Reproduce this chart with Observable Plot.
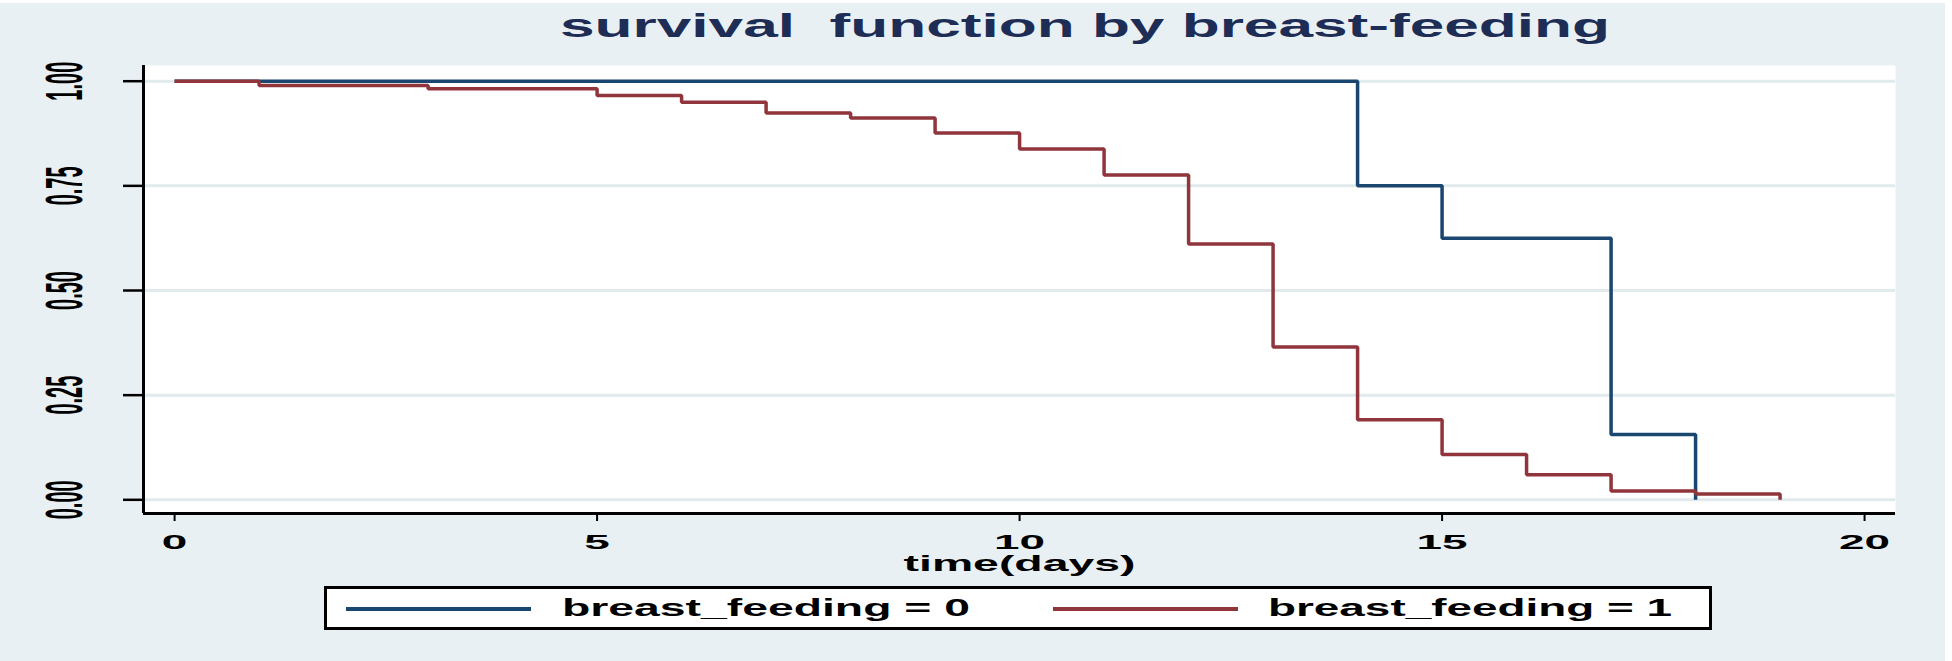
<!DOCTYPE html>
<html><head><meta charset="utf-8">
<script src="https://cdn.jsdelivr.net/npm/d3@7"></script>
<script src="https://cdn.jsdelivr.net/npm/@observablehq/plot@0.6"></script>
<style>
html,body{margin:0;padding:0;background:#fff;width:1952px;height:661px;overflow:hidden;font-family:"Liberation Sans",Arial,sans-serif;}
#panel{position:absolute;left:0;top:3px;width:1945px;height:658px;background:#e9f0f3;}
#chart{position:absolute;left:0;top:0;}
.htext{position:absolute;white-space:pre;font-weight:bold;transform-origin:0 0;display:inline-block;}
#title{left:560px;top:8.8px;font-size:33px;line-height:33px;color:#1d2d56;}
#legend{position:absolute;left:324px;top:586px;width:1388px;height:44px;box-sizing:border-box;border:3px solid #000;background:#fff;}
.swatch{position:absolute;height:4px;width:185px;top:607px;}
.ltext{font-size:23px;line-height:23px;top:597.2px;color:#000;}
</style></head><body>
<div id="panel"></div>
<div id="chart"></div>
<span id="title" class="htext"></span>
<div id="legend"></div>
<div id="sw0" class="swatch" style="left:346px;"></div>
<span id="lt0" class="htext ltext" style="left:562px"></span>
<div id="sw1" class="swatch" style="left:1053px;"></div>
<span id="lt1" class="htext ltext" style="left:1268px"></span>
<script>
// ---- data ----
const times0 = [0, 14, 15, 17, 18];
const surv0  = [1, 0.75, 0.625, 0.156, 0];
const times1 = [0, 1, 3, 5, 6, 7, 8, 9, 10, 11, 12, 13, 14, 15, 16, 17, 18, 19];
const surv1  = [1, 0.990, 0.982, 0.966, 0.950, 0.924, 0.912, 0.876, 0.838, 0.776, 0.611, 0.365, 0.191, 0.108, 0.060, 0.021, 0.014, 0];
const xTicks = [0, 5, 10, 15, 20];
const yTicks = [0, 0.25, 0.5, 0.75, 1];
const yTickLabels = ["0.00", "0.25", "0.50", "0.75", "1.00"];
const groupLabels = ["breast_feeding = 0", "breast_feeding = 1"];
const titleText = "survival  function by breast-feeding";
const xTitle = "time(days)";

const colors = ["#1a476f", "#90353b"];
const rows0 = times0.map((t, i) => ({t, s: surv0[i]}));
const rows1 = times1.map((t, i) => ({t, s: surv1[i]}));
const xDomain = [-0.368, 20.366];
const yDomain = [-0.0327, 1.0375];

const chart = Plot.plot({
  width: 1952, height: 580,
  marginLeft: 143, marginRight: 57, marginTop: 65, marginBottom: 67,
  style: {background: "transparent", fontFamily: '"Liberation Sans", Arial, sans-serif', overflow: "visible"},
  x: {domain: xDomain},
  y: {domain: yDomain},
  marks: [
    Plot.frame({fill: "white", stroke: "none"}),
    Plot.ruleY(yTicks, {stroke: "#e1eaed", strokeWidth: 3}),
    Plot.line(rows0, {x: "t", y: "s", curve: "step-after", stroke: colors[0], strokeWidth: 3.5, strokeLinecap: "butt", strokeLinejoin: "miter"}),
    Plot.line(rows1, {x: "t", y: "s", curve: "step-after", stroke: colors[1], strokeWidth: 3.5, strokeLinecap: "butt", strokeLinejoin: "miter"}),
    Plot.axisY(yTicks, {tickSize: 20, tickFormat: () => "", stroke: "black", strokeWidth: 2.5, label: null}),
    Plot.axisX(xTicks, {tickSize: 8, tickFormat: () => "", stroke: "black", strokeWidth: 2, label: null}),
    Plot.ruleX([xDomain[0]], {y1: yDomain[0], y2: yDomain[1], stroke: "black", strokeWidth: 3}),
    Plot.ruleY([yDomain[0]], {x1: xDomain[0], x2: xDomain[1], stroke: "black", strokeWidth: 3}),
    Plot.text(yTicks, {y: d => d, text: (d, i) => yTickLabels[i], frameAnchor: "left", dx: -79.5, rotate: -90,
      textAnchor: "middle", lineAnchor: "middle", fontSize: 20, fontWeight: "bold", fill: "black"}),
    Plot.text(xTicks, {x: d => d, text: d => String(d), frameAnchor: "bottom", dy: 28.3,
      textAnchor: "middle", lineAnchor: "middle", fontSize: 21, fontWeight: "bold", fill: "black"}),
    Plot.text([xTitle], {text: d => d, frameAnchor: "bottom", dy: 50.4,
      textAnchor: "middle", lineAnchor: "middle", fontSize: 22, fontWeight: "bold", fill: "black"})
  ]
});
document.getElementById("chart").appendChild(chart);

function stretchEl(el, sx, sy) {
  const b = el.getBBox();
  const cx = b.x + b.width / 2, cy = b.y + b.height / 2;
  const t = el.getAttribute("transform") || "";
  el.setAttribute("transform", `${t} translate(${cx},${cy}) scale(${sx},${sy}) translate(${-cx},${-cy})`);
}
const allText = Array.from(chart.querySelectorAll("text")).filter(el => el.textContent.length > 0);
const yl = allText.filter(el => yTickLabels.includes(el.textContent));
const xl = allText.filter(el => xTicks.map(String).includes(el.textContent));
const xt = allText.filter(el => el.textContent === xTitle);
yl.forEach(el => stretchEl(el, 1, 2.6));
const ref = xl.find(el => el.textContent === "10") || xl[0];
const kx = 51 / ref.getBBox().width;
xl.forEach(el => stretchEl(el, kx, 1));
xt.forEach(el => stretchEl(el, 232 / el.getBBox().width, 1));

// ---- title and legend ----
function fitWidth(el, target) {
  const w = el.getBoundingClientRect().width;
  el.style.transform = `scaleX(${target / w})`;
}
const title = document.getElementById("title");
title.textContent = titleText;
fitWidth(title, 1050);
document.getElementById("sw0").style.background = colors[0];
document.getElementById("sw1").style.background = colors[1];
const lt0 = document.getElementById("lt0"), lt1 = document.getElementById("lt1");
lt0.textContent = groupLabels[0];
lt1.textContent = groupLabels[1];
fitWidth(lt0, 408);
fitWidth(lt1, 404);
</script>
</body></html>
